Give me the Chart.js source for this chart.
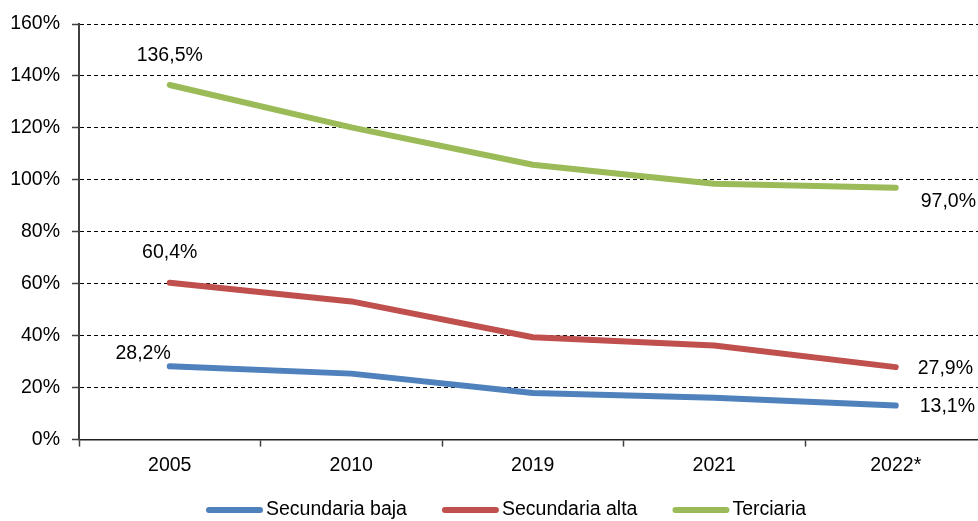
<!DOCTYPE html>
<html>
<head>
<meta charset="utf-8">
<script src="https://cdn.jsdelivr.net/npm/chart.js@4"></script>
<style>
  html, body { margin: 0; padding: 0; background: #fff; overflow: hidden; }
  #wrap { width: 990px; height: 521px; }
</style>
</head>
<body>
<div id="wrap"><canvas id="chart"></canvas></div>
<script>
// Tasas por nivel educativo, 2005-2022*
const years = ['2005', '2010', '2019', '2021', '2022*'];
const secundariaBaja = [28.2, 25.4, 17.9, 16.1, 13.1];
const secundariaAlta = [60.4, 53.2, 39.4, 36.2, 27.9];
const terciaria = [136.5, 120.2, 105.8, 98.5, 97.0];
const seriesNames = ['Secundaria baja', 'Secundaria alta', 'Terciaria'];
const yMin = 0;
const yMax = 160;
const yStep = 20;

const FONT = "'Liberation Sans', Arial, sans-serif";
const colors = ['#4F81BD', '#C0504D', '#9BBB59'];

// where the first / last value label sits relative to its point
const labelPlacement = [
  { first: { dx: 1, dy: -13, align: 'right' }, last: { dx: 24, dy: 1.5, align: 'left' } },
  { first: { dx: 0, dy: -30, align: 'center' }, last: { dx: 22, dy: 1, align: 'left' } },
  { first: { dx: 0, dy: -29, align: 'center' }, last: { dx: 25, dy: 14, align: 'left' } }
];

const fmt = v => v.toFixed(1).replace('.', ',') + '%';

const endLabels = {
  id: 'endLabels',
  afterDatasetsDraw(chart) {
    const { ctx } = chart;
    ctx.save();
    ctx.font = '19.5px ' + FONT;
    ctx.fillStyle = '#000';
    ctx.textBaseline = 'middle';
    chart.data.datasets.forEach((ds, i) => {
      const pts = chart.getDatasetMeta(i).data;
      const last = pts.length - 1;
      [[0, labelPlacement[i].first], [last, labelPlacement[i].last]].forEach(([idx, p]) => {
        ctx.textAlign = p.align;
        ctx.fillText(fmt(ds.data[idx]), pts[idx].x + p.dx, pts[idx].y + p.dy);
      });
    });
    ctx.restore();
  }
};

// legend drawn by hand: thick rounded line + label, tighter than the built-in one
const legendStyle = { left: 206, y: 510, lineLen: 51, textGap: 60, itemGap: 35 };
const bottomLegend = {
  id: 'bottomLegend',
  afterDraw(chart) {
    const { ctx } = chart;
    let x = legendStyle.left;
    const y = legendStyle.y;
    ctx.save();
    ctx.font = '19.5px ' + FONT;
    ctx.textBaseline = 'middle';
    ctx.textAlign = 'left';
    chart.data.datasets.forEach(ds => {
      ctx.strokeStyle = ds.borderColor;
      ctx.lineWidth = 6;
      ctx.lineCap = 'round';
      ctx.beginPath();
      ctx.moveTo(x + 3, y);
      ctx.lineTo(x + 3 + legendStyle.lineLen, y);
      ctx.stroke();
      x += legendStyle.textGap;
      ctx.fillStyle = '#000';
      ctx.fillText(ds.label, x, y);
      x += ctx.measureText(ds.label).width + legendStyle.itemGap;
    });
    ctx.restore();
  }
};

const seriesData = [secundariaBaja, secundariaAlta, terciaria];

new Chart(document.getElementById('chart'), {
  type: 'line',
  data: {
    labels: years,
    datasets: seriesData.map((d, i) => ({
      label: seriesNames[i],
      data: d,
      borderColor: colors[i],
      backgroundColor: colors[i],
      borderWidth: 6,
      borderCapStyle: 'round',
      borderJoinStyle: 'round',
      pointRadius: 0,
      tension: 0,
      fill: false
    }))
  },
  options: {
    responsive: true,
    maintainAspectRatio: false,
    animation: false,
    layout: { padding: { top: 24, right: 3.5, bottom: 37, left: 0 } },
    plugins: {
      legend: { display: false },
      tooltip: { enabled: false }
    },
    scales: {
      x: {
        offset: true,
        grid: {
          offset: true,
          drawOnChartArea: false,
          drawTicks: true,
          tickLength: 7,
          tickColor: '#404040',
          tickWidth: 1.5
        },
        border: { color: '#202020', width: 1.5 },
        ticks: { color: '#000', padding: 7, font: { family: FONT, size: 19.5 } }
      },
      y: {
        min: yMin,
        max: yMax,
        afterFit: scale => { scale.width = 79; },
        grid: {
          color: '#000',
          lineWidth: 1,
          tickLength: 7,
          tickColor: '#404040',
          tickWidth: 1.5,
          tickBorderDash: []
        },
        border: { color: '#404040', width: 2, dash: [4, 3] },
        ticks: {
          stepSize: yStep,
          color: '#000',
          padding: 12,
          font: { family: FONT, size: 19.5 },
          callback: v => v + '%'
        }
      }
    }
  },
  plugins: [endLabels, bottomLegend]
});
</script>
</body>
</html>
